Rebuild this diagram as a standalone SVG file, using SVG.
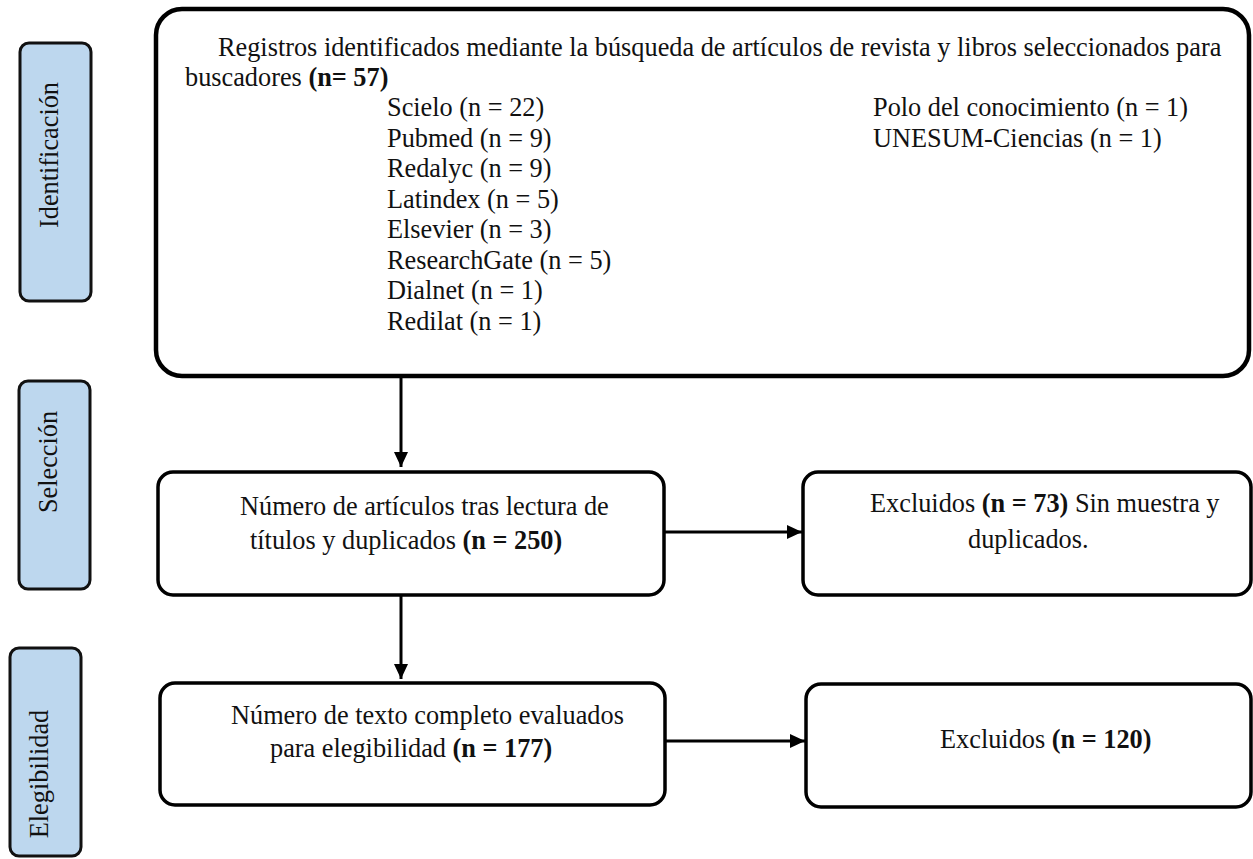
<svg xmlns="http://www.w3.org/2000/svg" width="1253" height="859" viewBox="0 0 1253 859">
  <style>
    text { font-family: "Liberation Serif", "Times New Roman", serif; font-size: 26.3px; fill: #111; }
    .b { font-weight: bold; }
    .phase { fill: #bdd7ee; stroke: #111; stroke-width: 3; }
    .box { fill: #fff; stroke: #000; stroke-width: 3.5; }
    .big { fill: #fff; stroke: #000; stroke-width: 4.5; }
    .conn { stroke: #000; stroke-width: 3; fill: none; }
  </style>
  <defs>
    <marker id="ah" markerUnits="userSpaceOnUse" markerWidth="16" markerHeight="14" refX="15" refY="7" orient="auto">
      <path d="M0,0 L15,7 L0,14 Z" fill="#000"/>
    </marker>
  </defs>
  <rect width="1253" height="859" fill="#fff"/>

  <g id="phase-identificacion">
    <rect class="phase" x="20" y="43" width="71" height="258" rx="9"/>
    <text transform="translate(58,155) rotate(-90)" text-anchor="middle">Identificación</text>
  </g>
  <g id="phase-seleccion">
    <rect class="phase" x="19" y="381" width="71" height="208" rx="9"/>
    <text transform="translate(57,462) rotate(-90)" text-anchor="middle">Selección</text>
  </g>
  <g id="phase-elegibilidad">
    <rect class="phase" x="10" y="648" width="71" height="208" rx="9"/>
    <text transform="translate(48,774) rotate(-90)" text-anchor="middle">Elegibilidad</text>
  </g>

  <g id="node-registros">
    <rect class="big" x="156" y="9" width="1093" height="367" rx="26"/>
    <text x="218" y="56">Registros identificados mediante la búsqueda de artículos de revista y libros seleccionados para</text>
    <text x="185" y="86">buscadores <tspan class="b">(n= 57)</tspan></text>
    <text x="387" y="116">Scielo (n = 22)</text>
    <text x="387" y="146.5">Pubmed (n = 9)</text>
    <text x="387" y="177">Redalyc (n = 9)</text>
    <text x="387" y="207.5">Latindex (n = 5)</text>
    <text x="387" y="238">Elsevier (n = 3)</text>
    <text x="387" y="268.5">ResearchGate (n = 5)</text>
    <text x="387" y="299">Dialnet (n = 1)</text>
    <text x="387" y="329.5">Redilat (n = 1)</text>
    <text x="873" y="116">Polo del conocimiento (n = 1)</text>
    <text x="873" y="146.5">UNESUM-Ciencias (n = 1)</text>
  </g>

  <g id="node-seleccion">
    <rect class="box" x="158" y="472" width="506" height="123" rx="15"/>
    <text x="240" y="515">Número de artículos tras lectura de</text>
    <text x="250" y="549">títulos y duplicados <tspan class="b">(n = 250)</tspan></text>
  </g>

  <g id="node-excluidos-73">
    <rect class="box" x="803" y="472" width="448" height="123" rx="15"/>
    <text x="870" y="512">Excluidos <tspan class="b">(n = 73)</tspan> Sin muestra y</text>
    <text x="968" y="548">duplicados.</text>
  </g>

  <g id="node-elegibilidad">
    <rect class="box" x="160" y="683" width="505" height="122" rx="15"/>
    <text x="231" y="724">Número de texto completo evaluados</text>
    <text x="270" y="757">para elegibilidad <tspan class="b">(n = 177)</tspan></text>
  </g>

  <g id="node-excluidos-120">
    <rect class="box" x="806" y="684" width="445" height="123" rx="15"/>
    <text x="940" y="748">Excluidos <tspan class="b">(n = 120)</tspan></text>
  </g>

  <g id="connectors">
    <line class="conn" x1="401" y1="378" x2="401" y2="467" marker-end="url(#ah)"/>
    <line class="conn" x1="401" y1="596" x2="401" y2="679" marker-end="url(#ah)"/>
    <line class="conn" x1="665" y1="532" x2="802" y2="532" marker-end="url(#ah)"/>
    <line class="conn" x1="666" y1="741" x2="805" y2="741" marker-end="url(#ah)"/>
  </g>
</svg>
